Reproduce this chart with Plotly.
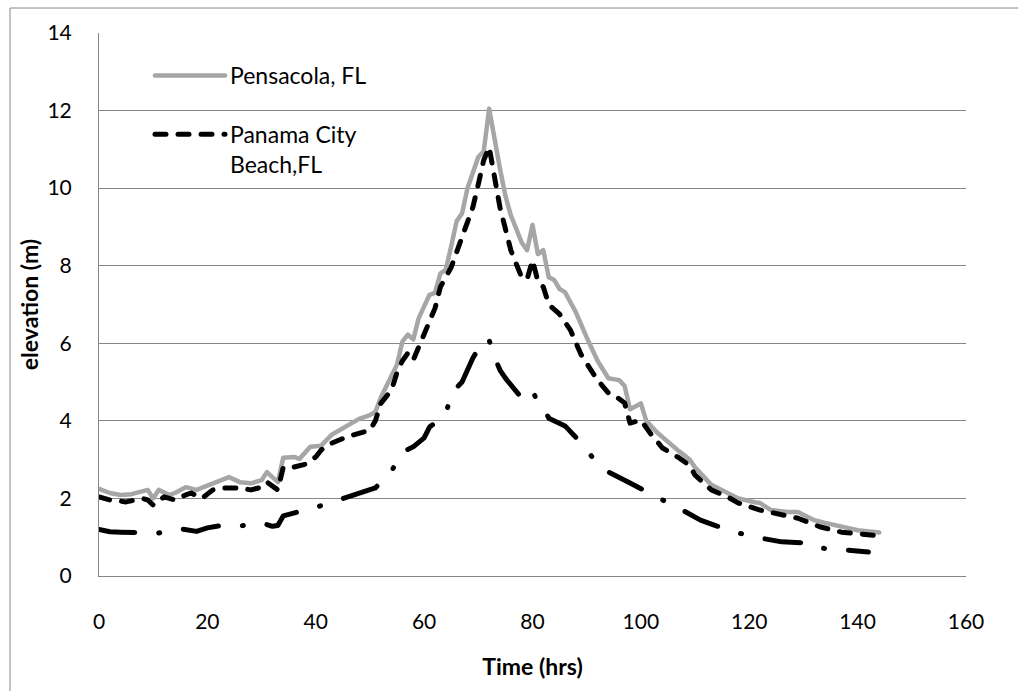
import plotly.graph_objects as go

# Water surface elevation time series (hours, metres)
pensacola_t = [0, 2, 4, 6, 9, 10, 11, 13, 14, 15, 16, 18, 19, 20, 22, 24, 26, 28, 30, 31,
               33, 34, 36, 37, 39, 41, 43, 45, 46, 48, 50, 51, 52, 54, 55, 56, 57, 58, 59,
               61, 62, 63, 64, 65, 66, 67, 68, 70, 71, 72, 73, 74, 75, 76, 78, 79, 80, 81,
               82, 83, 84, 85, 86, 88, 90, 92, 94, 96, 97, 98, 100, 101, 103, 105, 107, 109,
               110, 113, 115, 116, 117, 118, 121, 122, 124, 127, 129, 132, 134, 137, 140, 144]
pensacola_h = [2.25, 2.14, 2.09, 2.11, 2.22, 2.0, 2.22, 2.09, 2.14, 2.2, 2.29, 2.22, 2.27, 2.35,
               2.42, 2.55, 2.42, 2.39, 2.47, 2.68, 2.42, 3.05, 3.07, 3.02, 3.33, 3.36, 3.65, 3.82,
               3.89, 4.05, 4.15, 4.23, 4.6, 5.2, 5.45, 6.05, 6.22, 6.1, 6.65, 7.25, 7.3, 7.8, 7.9,
               8.5, 9.15, 9.35, 10.0, 10.8, 10.95, 12.05, 11.2, 10.5, 9.8, 9.3, 8.6, 8.4, 9.05,
               8.3, 8.4, 7.7, 7.63, 7.4, 7.32, 6.8, 6.15, 5.55, 5.1, 5.05, 4.9, 4.3, 4.45, 4.0,
               3.7, 3.45, 3.22, 3.0, 2.8, 2.35, 2.2, 2.15, 2.05, 2.0, 1.9, 1.88, 1.7, 1.65, 1.65,
               1.44, 1.37, 1.27, 1.18, 1.12]

panama_t = [0, 2, 5, 8, 9, 10, 12, 14, 16, 17, 19, 21, 23, 26, 28, 30, 31, 33, 34, 36, 38, 40,
            41, 43, 46, 48, 50, 51, 52, 54, 55, 56, 57, 58, 60, 62, 63, 65, 67, 69, 70, 71, 72,
            73, 74, 76, 78, 79, 80, 81, 82, 83, 85, 87, 89, 92, 94, 95, 97, 98, 100, 102, 104,
            107, 109, 110, 113, 116, 118, 122, 126, 129, 133, 137, 143]
panama_h = [2.04, 1.96, 1.91, 2.0, 1.96, 1.83, 2.04, 1.96, 2.09, 2.14, 2.0, 2.22, 2.27, 2.27,
            2.22, 2.29, 2.42, 2.22, 2.8, 2.81, 2.88, 3.07, 3.25, 3.43, 3.6, 3.68, 3.76, 4.0,
            4.45, 4.8, 5.25, 5.55, 5.75, 5.57, 6.26, 6.9, 7.45, 7.96, 8.74, 9.51, 10.1, 10.72,
            11.06, 10.2, 9.5, 8.4, 7.7, 7.65, 8.14, 7.6, 7.45, 7.0, 6.75, 6.34, 5.7, 5.05, 4.72,
            4.67, 4.46, 3.94, 4.02, 3.63, 3.3, 3.05, 2.85, 2.6, 2.22, 2.04, 1.88, 1.7, 1.57,
            1.49, 1.27, 1.13, 1.05]

third_t = [0, 2, 4, 7, 11, 15, 18, 20, 22, 26, 30, 32, 33, 34, 36, 40, 44, 47, 51, 54, 56, 58,
           60, 61, 64, 65, 67, 68, 69, 71, 72, 73, 74, 75, 78, 80, 81, 82, 83, 86, 89, 91, 94,
           98, 101, 104, 107, 111, 115, 118, 122, 126, 131, 133, 138, 142]
third_h = [1.2, 1.14, 1.13, 1.12, 1.11, 1.22, 1.15, 1.24, 1.29, 1.29, 1.37, 1.28, 1.3, 1.55,
           1.62, 1.77, 1.95, 2.08, 2.27, 2.71, 3.2, 3.33, 3.56, 3.84, 4.16, 4.72, 5.0, 5.31,
           5.62, 6.1, 6.08, 5.64, 5.31, 5.1, 4.59, 4.79, 4.46, 4.36, 4.07, 3.87, 3.43, 3.07,
           2.68, 2.4, 2.17, 1.96, 1.75, 1.44, 1.24, 1.11, 0.98, 0.88, 0.85, 0.72, 0.67, 0.62]

x_ticks = [0, 20, 40, 60, 80, 100, 120, 140, 160]
y_ticks = [0, 2, 4, 6, 8, 10, 12, 14]

FONT = "Lato, 'Open Sans', sans-serif"
GRID = "#868686"

fig = go.Figure()
fig.add_trace(go.Scatter(
    x=pensacola_t, y=pensacola_h, mode="lines", name="Pensacola, FL",
    legendgroup="a", line=dict(color="#A6A6A6", width=4.5)))
fig.add_trace(go.Scatter(
    x=panama_t, y=panama_h, mode="lines", name="Panama City<br>Beach,FL",
    legendgroup="b", line=dict(color="#000000", width=5, dash="11px,12px")))
fig.add_trace(go.Scatter(
    x=third_t, y=third_h, mode="lines", showlegend=False,
    line=dict(color="#000000", width=5, dash="36px,24px,1px,24px")))

fig.update_layout(
    width=1018, height=691,
    margin=dict(l=99, r=52, t=33, b=115),
    paper_bgcolor="white", plot_bgcolor="white",
    font=dict(family=FONT, size=21, color="#000000"),
    showlegend=True,
    legend=dict(
        x=(150 - 99) / 867, y=1 - (54 - 33) / 543, xanchor="left", yanchor="top",
        bgcolor="rgba(0,0,0,0)", font=dict(family=FONT, size=23, color="#000000"),
        tracegroupgap=26, itemwidth=70, valign="top"),
    xaxis=dict(
        range=[0, 160], tickvals=x_ticks, showgrid=False, zeroline=False,
        showline=True, linecolor=GRID, linewidth=1, ticks="",
        ticklabelstandoff=27, tickfont=dict(size=21),
        title=dict(text="<b>Time (hrs)</b>", font=dict(size=23), standoff=26)),
    yaxis=dict(
        range=[0, 14], tickvals=y_ticks, showgrid=True, gridcolor=GRID, gridwidth=1,
        zeroline=False, showline=True, linecolor=GRID, linewidth=1, ticks="",
        ticklabelstandoff=22, tickfont=dict(size=21),
        title=dict(text="<b>elevation (m)</b>", font=dict(size=23), standoff=2)),
    shapes=[dict(
        type="rect", xref="paper", yref="paper", layer="below",
        x0=(10 - 99) / 867, x1=(1030 - 99) / 867,
        y0=1 + (33 - 700) / 543, y1=1 + (33 - 8) / 543,
        line=dict(color=GRID, width=1), fillcolor="rgba(0,0,0,0)")],
)

round_caps = """
document.querySelectorAll('.scatterlayer path.js-line, .legend path.js-line').forEach(function(p){
  p.style.strokeLinecap = 'round';
  p.style.strokeLinejoin = 'round';
});
"""

fig.write_html("out.html", post_script=round_caps)
